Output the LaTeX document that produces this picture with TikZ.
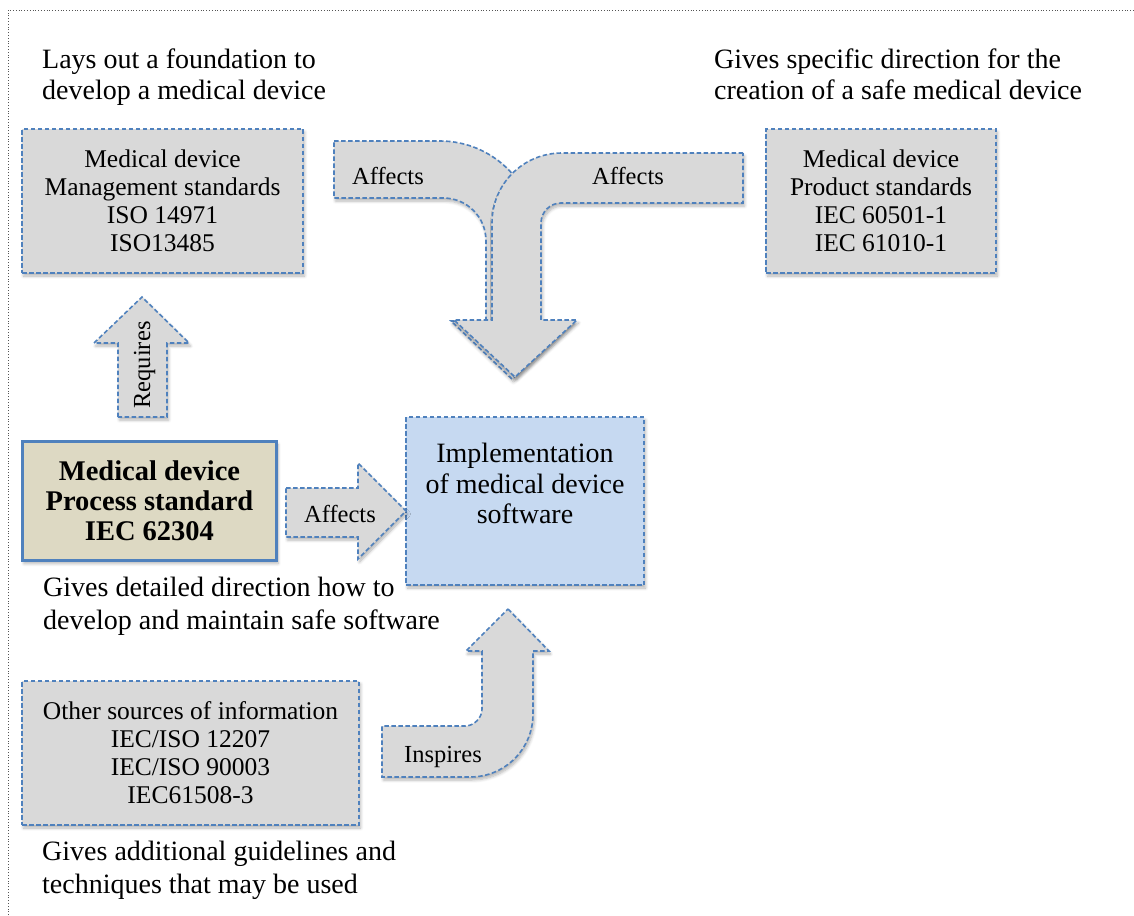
\documentclass[tikz,border=0pt]{standalone}
\usepackage{fontspec}
\setmainfont{Liberation Serif}
\usetikzlibrary{shadows.blur}
\definecolor{dblue}{HTML}{4F81BD}
\definecolor{boxgray}{HTML}{D9D9D9}
\definecolor{beige}{HTML}{DDD9C3}
\definecolor{lblue}{HTML}{C6D9F1}
\definecolor{framegray}{HTML}{555555}
\tikzset{
  dashline/.style={draw=dblue, line width=1.6pt, dash pattern=on 4.5pt off 2.5pt},
  sh/.style={blur shadow={shadow xshift=1.5pt, shadow yshift=-3pt, shadow blur radius=3pt, shadow opacity=30, shadow blur steps=6}},
  graybox/.style={dashline, fill=boxgray, sh, align=center, inner sep=0pt, font=\fontsize{25.5}{28}\selectfont},
  blockarrow/.style={dashline, fill=boxgray, sh},
  note/.style={anchor=north west, inner sep=0pt, align=left, font=\fontsize{28}{30.5}\selectfont},
  alabel/.style={anchor=base, inner sep=0pt, font=\fontsize{24.5}{28}\selectfont},
}
\begin{document}
\begin{tikzpicture}[x=1pt, y=-1pt]
\useasboundingbox (0,0) rectangle (1134,915);
% frame
\draw[framegray, line width=0.8pt, dotted] (8,915) -- (8,10) -- (1134,10);

% notes
\node[note] (n1) at (42,49) {Lays out a foundation to\\develop a medical device};
\node[note] (n2) at (714,49) {Gives specific direction for the\\creation of a safe medical device};
\node[note, font=\fontsize{28}{32.5}\selectfont] (n3) at (43,577) {Gives detailed direction how to\\develop and maintain safe software};
\node[note, font=\fontsize{28}{32.5}\selectfont] (n4) at (42,841) {Gives additional guidelines and\\techniques that may be used};

% boxes
\node[graybox, minimum width=281pt, minimum height=144pt] (mgmt) at (162.5,201)
  {Medical device\\Management standards\\ISO 14971\\ISO13485};
\node[graybox, minimum width=230pt, minimum height=144pt] (prod) at (881,201)
  {Medical device\\Product standards\\IEC 60501-1\\IEC 61010-1};
\node[draw=dblue, line width=3.2pt, fill=beige, sh, minimum width=254pt, minimum height=119pt,
  align=center, inner sep=0pt, font=\bfseries\fontsize{28.5}{30}\selectfont] (proc) at (149.5,501)
  {Medical device\\Process standard\\IEC 62304};
\node[dashline, fill=lblue, sh, minimum width=238pt, minimum height=168pt] (impl) at (525,501) {};
\node[anchor=north, inner sep=0pt, align=center, font=\fontsize{28}{30.5}\selectfont] (impltext) at (525,443)
  {Implementation\\of medical device\\software};
\node[graybox, minimum width=337pt, minimum height=144pt] (other) at (190.5,753)
  {Other sources of information\\IEC/ISO 12207\\IEC/ISO 90003\\IEC61508-3};

% merge arrow: left branch
\path[blockarrow] (334,141) -- (440,141) .. controls (493,141) and (536,184) .. (536,237)
  -- (536,321) -- (573,321) -- (512,379) -- (451,321) -- (486,321) -- (486,241)
  .. controls (486,217) and (467,198) .. (443,198) -- (334,198) -- cycle;
% merge arrow: right branch
\path[blockarrow] (743,153) -- (562,153) .. controls (523,153) and (492,184) .. (492,223)
  -- (492,320) -- (454,320) -- (515,377) -- (577,320) -- (541,320) -- (541,223)
  .. controls (541,212) and (550,203) .. (561,203) -- (743,203) -- cycle;
\node[alabel] (aff1) at (388,184) {Affects};
\node[alabel] (aff2) at (628,184) {Affects};

% requires arrow
\path[blockarrow] (118,417) -- (118,343) -- (94,343) -- (142,297) -- (189,343) -- (167,343) -- (167,417) -- cycle;
\node[alabel, rotate=90] (req) at (150,365) {Requires};

% affects arrow (process -> implementation)
\path[blockarrow] (286,488) -- (358,488) -- (358,463) -- (406,511) -- (358,559) -- (358,537) -- (286,537) -- cycle;
\node[alabel] (aff3) at (340,522) {Affects};

% inspires arrow
\path[blockarrow] (508,609) -- (549,651) -- (533,651) -- (533,714) .. controls (533,749) and (505,777) .. (470,777)
  -- (382,777) -- (382,726) -- (465,726) .. controls (474,726) and (482,718) .. (482,709)
  -- (482,651) -- (466,651) -- cycle;
\node[alabel] (insp) at (443,762) {Inspires};
\end{tikzpicture}
\end{document}
